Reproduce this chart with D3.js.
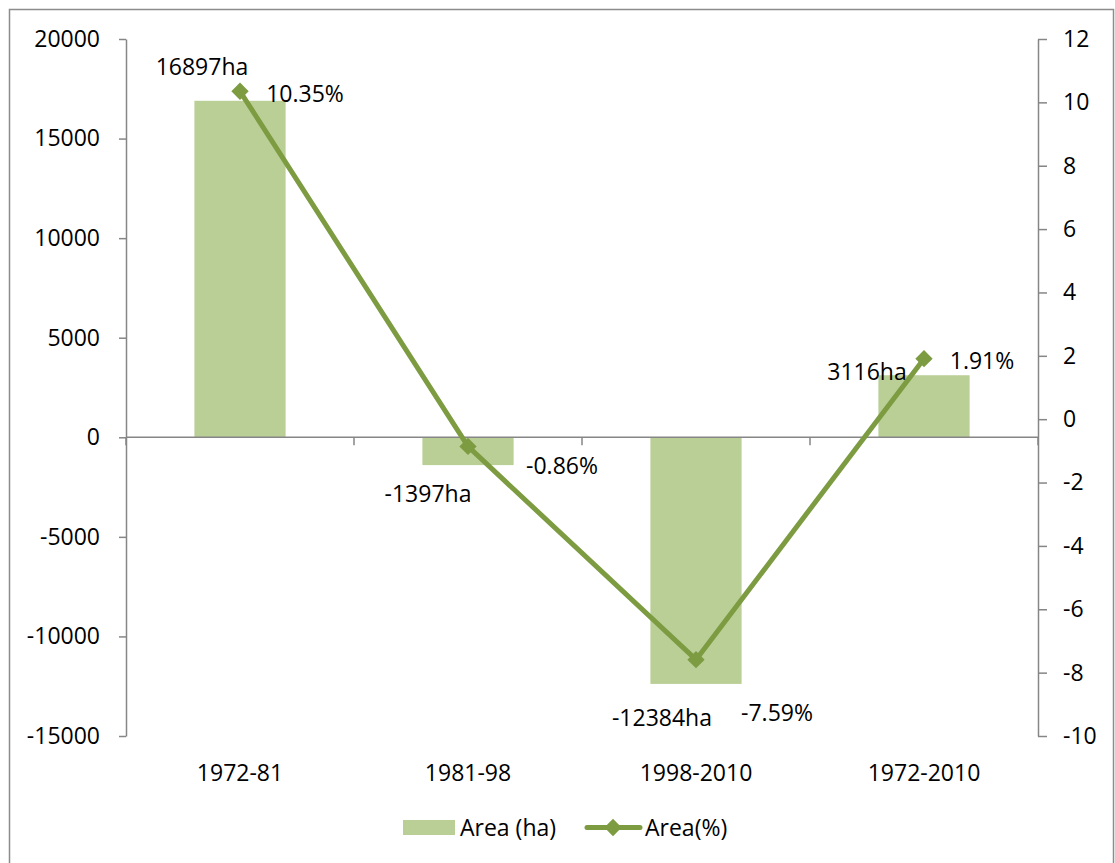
<!DOCTYPE html>
<html>
<head>
<meta charset="utf-8">
<script src="https://cdn.jsdelivr.net/npm/d3@7"></script>
<style>
  html, body { margin: 0; padding: 0; background: #fff; }
  svg text { font-family: "Open Sans", Lato, sans-serif; fill: #000; }
</style>
</head>
<body>
<svg id="chart" width="1115" height="863"></svg>
<script>
// Change in area per period: absolute (ha) and relative (%)
const periods = ["1972-81", "1981-98", "1998-2010", "1972-2010"];
const areaHa = [16897, -1397, -12384, 3116];
const areaPct = [10.35, -0.86, -7.59, 1.91];
const haLabels = ["16897ha", "-1397ha", "-12384ha", "3116ha"];
const pctLabels = ["10.35%", "-0.86%", "-7.59%", "1.91%"];
const leftTicks = [-15000, -10000, -5000, 0, 5000, 10000, 15000, 20000];
const rightTicks = [-10, -8, -6, -4, -2, 0, 2, 4, 6, 8, 10, 12];
const seriesNames = ["Area (ha)", "Area(%)"];

// Label placement relative to each bar end / line marker
const haLabelOffset = [[-38, -35], [-40, 28], [-34, 33], [-57, -4]];
const pctLabelOffset = [[65, 2], [94, 19], [81, 52], [58, 1]];

const barColor = "#BACF96";
const lineColor = "#7D9C42";
const axisColor = "#868686";
const fontSize = 23;
const fmt = d => String(d); // plain hyphen-minus for negatives

const svg = d3.select("#chart");

// Chart frame
svg.append("rect")
  .attr("x", 9.5).attr("y", 9.5)
  .attr("width", 1104).attr("height", 870)
  .attr("fill", "#fff")
  .attr("stroke", "#8c8c8c").attr("stroke-width", 1.5);

const plot = { left: 126, right: 1038, top: 39, bottom: 736 };

const x = d3.scaleBand()
  .domain(periods)
  .range([plot.left, plot.right])
  .paddingInner(0.6).paddingOuter(0.3);

const xBounds = d3.scaleLinear().domain([0, periods.length]).range([plot.left, plot.right]);

const yL = d3.scaleLinear().domain([-15000, 20000]).range([plot.bottom, plot.top]);
const yR = d3.scaleLinear().domain([-10, 12]).range([plot.bottom, plot.top]);

// Bars
svg.append("g").selectAll("rect")
  .data(periods)
  .join("rect")
  .attr("x", d => x(d))
  .attr("width", x.bandwidth())
  .attr("y", (d, i) => Math.min(yL(areaHa[i]), yL(0)))
  .attr("height", (d, i) => Math.abs(yL(areaHa[i]) - yL(0)))
  .attr("fill", barColor);

// Left axis
const gL = svg.append("g")
  .attr("transform", `translate(${plot.left},0)`)
  .call(d3.axisLeft(yL).tickValues(leftTicks).tickSize(7).tickSizeOuter(0).tickPadding(19).tickFormat(fmt));

// Right axis
const gR = svg.append("g")
  .attr("transform", `translate(${plot.right},0)`)
  .call(d3.axisRight(yR).tickValues(rightTicks).tickSize(9).tickSizeOuter(0).tickPadding(16).tickFormat(fmt));

// Category axis along zero of the left scale
const gX = svg.append("g").attr("transform", `translate(0,${yL(0)})`);
gX.append("line")
  .attr("x1", plot.left).attr("x2", plot.right)
  .attr("stroke", axisColor).attr("stroke-width", 1.5);
gX.selectAll("line.tick")
  .data(d3.range(periods.length + 1))
  .join("line")
  .attr("class", "tick")
  .attr("x1", d => xBounds(d)).attr("x2", d => xBounds(d))
  .attr("y1", 0).attr("y2", 8)
  .attr("stroke", axisColor).attr("stroke-width", 1.5);

svg.append("g").selectAll("text")
  .data(periods)
  .join("text")
  .attr("x", d => x(d) + x.bandwidth() / 2)
  .attr("y", 772)
  .attr("text-anchor", "middle")
  .attr("dominant-baseline", "central")
  .attr("font-size", fontSize)
  .text(d => d);

[gL, gR].forEach(g => {
  g.select(".domain").attr("stroke", axisColor).attr("stroke-width", 1.5);
  g.selectAll(".tick line").attr("stroke", axisColor).attr("stroke-width", 1.5);
  g.selectAll(".tick text")
    .attr("font-size", fontSize)
    .attr("font-family", "'Open Sans', Lato, sans-serif")
    .attr("fill", "#000");
});

// Percentage line with diamond markers
const cx = i => x(periods[i]) + x.bandwidth() / 2;
const line = d3.line().x((d, i) => cx(i)).y(d => yR(d));
svg.append("path")
  .datum(areaPct)
  .attr("d", line)
  .attr("fill", "none")
  .attr("stroke", lineColor)
  .attr("stroke-width", 5)
  .attr("stroke-linejoin", "round");

const diamond = d3.symbol().type(d3.symbolSquare).size(150);
svg.append("g").selectAll("path")
  .data(areaPct)
  .join("path")
  .attr("d", diamond)
  .attr("transform", (d, i) => `translate(${cx(i)},${yR(d)}) rotate(45)`)
  .attr("fill", lineColor);

// Data labels
svg.append("g").selectAll("text")
  .data(areaHa)
  .join("text")
  .attr("x", (d, i) => cx(i) + haLabelOffset[i][0])
  .attr("y", (d, i) => yL(d) + haLabelOffset[i][1])
  .attr("text-anchor", "middle")
  .attr("dominant-baseline", "central")
  .attr("font-size", fontSize)
  .text((d, i) => haLabels[i]);

svg.append("g").selectAll("text")
  .data(areaPct)
  .join("text")
  .attr("x", (d, i) => cx(i) + pctLabelOffset[i][0])
  .attr("y", (d, i) => yR(d) + pctLabelOffset[i][1])
  .attr("text-anchor", "middle")
  .attr("dominant-baseline", "central")
  .attr("font-size", fontSize)
  .text((d, i) => pctLabels[i]);

// Legend
const legend = svg.append("g");
legend.append("rect")
  .attr("x", 403).attr("y", 820).attr("width", 52).attr("height", 15)
  .attr("fill", barColor);
legend.append("text")
  .attr("x", 460).attr("y", 827)
  .attr("dominant-baseline", "central")
  .attr("font-size", fontSize)
  .text(seriesNames[0]);
legend.append("line")
  .attr("x1", 587).attr("x2", 640).attr("y1", 827.5).attr("y2", 827.5)
  .attr("stroke", lineColor).attr("stroke-width", 5).attr("stroke-linecap", "round");
legend.append("path")
  .attr("d", diamond)
  .attr("transform", "translate(613,827.5) rotate(45)")
  .attr("fill", lineColor);
legend.append("text")
  .attr("x", 645).attr("y", 827)
  .attr("dominant-baseline", "central")
  .attr("font-size", fontSize)
  .text(seriesNames[1]);
</script>
</body>
</html>
